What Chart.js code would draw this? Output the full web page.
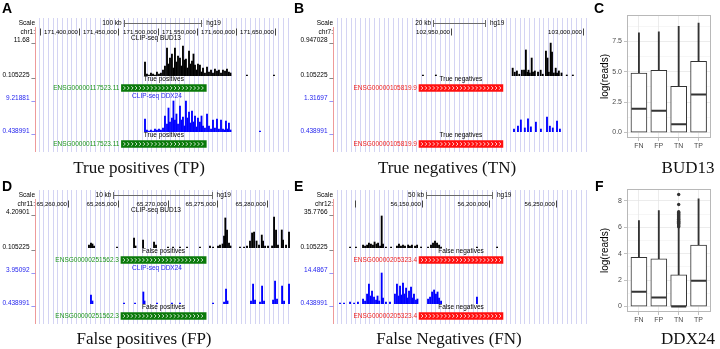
<!DOCTYPE html>
<html>
<head>
<meta charset="utf-8">
<script src="https://cdn.jsdelivr.net/npm/chart.js@4.4.1/dist/chart.umd.min.js"></script>
<style>
  html, body { margin: 0; padding: 0; background: #fff; }
  #fig { position: relative; width: 720px; height: 349px; overflow: hidden; background: #fff; }
  canvas { position: absolute; }
  .lt { position: absolute; font: bold 14px "Liberation Sans", Arial, sans-serif; line-height: 14px; color: #000; }
  .ttl { position: absolute; width: 220px; font: 17px "Liberation Serif", "Times New Roman", serif; line-height: 17px; text-align: center; white-space: nowrap; color: #111; }
</style>
</head>
<body>
<div id="fig">
  <canvas id="pA" width="296" height="160" style="left:0px;top:0px"></canvas>
  <canvas id="pB" width="300" height="160" style="left:292px;top:0px"></canvas>
  <canvas id="pC" width="130" height="160" style="left:590px;top:0px"></canvas>
  <canvas id="pD" width="296" height="160" style="left:0px;top:172px"></canvas>
  <canvas id="pE" width="300" height="160" style="left:292px;top:172px"></canvas>
  <canvas id="pF" width="130" height="160" style="left:590px;top:174px"></canvas>

  <div class="lt" style="left:2px;top:1px">A</div>
  <div class="lt" style="left:294px;top:1px">B</div>
  <div class="lt" style="left:594px;top:1px">C</div>
  <div class="lt" style="left:2px;top:179px">D</div>
  <div class="lt" style="left:294px;top:179px">E</div>
  <div class="lt" style="left:595px;top:179px">F</div>

  <div class="ttl" style="left:29px;top:159px">True positives (TP)</div>
  <div class="ttl" style="left:337px;top:159px">True negatives (TN)</div>
  <div class="ttl" style="left:578px;top:159px">BUD13</div>
  <div class="ttl" style="left:34px;top:330px">False positives (FP)</div>
  <div class="ttl" style="left:339px;top:330px">False Negatives (FN)</div>
  <div class="ttl" style="left:578px;top:330px">DDX24</div>
</div>

<script>
// ---- genome browser tracks (positions in kb, signal in track units) ----
// A: chr1, PRRC2C region
const aBudPos = [171484.0, 171486.5, 171489.1, 171491.6, 171494.2, 171496.7, 171499.2, 171501.8, 171504.3, 171506.9,
  171509.4, 171512.0, 171513.9, 171515.8, 171518.3, 171520.2, 171522.1, 171524.0, 171526.0, 171528.5,
  171530.4, 171532.3, 171534.2, 171536.1, 171538.0, 171540.0, 171541.9, 171543.8, 171545.7, 171547.6,
  171549.5, 171551.4, 171553.9, 171555.9, 171557.8, 171560.3, 171562.9, 171565.4, 171568.0, 171570.5,
  171573.0, 171575.6, 171578.1, 171580.7, 171583.2, 171585.8, 171588.3, 171590.8, 171592.8, 171613.7, 171648.1];
const aBudVal = [4.87, 0.79, 0.45, 1.13, 0.79, 0.45, 1.47, 0.79, 1.13, 2.15,
  3.51, 9.63, 4.19, 6.23, 7.59, 2.83, 9.63, 4.87, 6.91, 6.23,
  3.51, 10.31, 5.55, 5.89, 2.83, 8.61, 4.19, 5.21, 7.59, 3.85,
  2.15, 4.19, 3.85, 1.47, 2.83, 1.13, 3.17, 1.47, 2.15, 1.13,
  2.49, 1.81, 2.15, 1.13, 2.15, 1.81, 2.49, 1.47, 1.13, 0.45, 0.45];
const aDdxPos = [171484.0, 171486.5, 171489.1, 171491.6, 171494.2, 171496.7, 171499.2, 171501.8, 171504.3, 171506.9,
  171509.4, 171512.0, 171513.9, 171515.8, 171518.3, 171520.2, 171522.1, 171524.0, 171526.0, 171528.5,
  171530.4, 171532.3, 171534.2, 171536.1, 171538.0, 171540.0, 171541.9, 171543.8, 171545.7, 171547.6,
  171549.5, 171551.4, 171553.9, 171555.9, 171557.8, 171560.3, 171562.9, 171565.4, 171568.0, 171570.5,
  171573.0, 171575.6, 171578.1, 171580.7, 171583.2, 171585.1, 171587.0, 171589.0, 171590.8, 171592.8, 171630.3];
const aDdxVal = [4.01, 0.99, 0.71, 0.99, 0.71, 1.26, 0.99, 1.26, 0.99, 1.54,
  4.83, 2.63, 7.02, 3.18, 4.28, 8.95, 3.73, 5.38, 2.63, 7.57,
  3.73, 4.56, 2.09, 8.95, 4.28, 5.93, 2.91, 6.20, 3.18, 4.83,
  1.81, 4.28, 3.18, 4.83, 2.09, 1.54, 5.38, 2.09, 1.26, 3.73,
  1.54, 4.01, 1.26, 3.73, 1.26, 0.99, 3.46, 1.26, 2.91, 0.99, 0.71];

// B: chr7, PMPCB region
const bBudPos = [102939.4, 102944.3, 102973.4, 102974.2, 102975.0, 102975.9, 102976.9, 102977.7, 102978.4, 102979.0,
  102979.4, 102979.9, 102980.6, 102981.1, 102981.8, 102983.0, 102984.0, 102984.8, 102986.0, 102986.6,
  102987.1, 102987.8, 102988.3, 102989.0, 102989.7, 102990.2, 102990.9, 102991.9, 102993.9, 102996.2];
const bBudVal = [0.13, 0.13, 0.30, 0.20, 0.23, 0.15, 0.25, 0.25, 0.75, 0.20,
  0.25, 0.18, 0.55, 0.20, 0.23, 0.20, 0.25, 0.15, 0.72, 0.55,
  0.20, 0.92, 0.70, 0.18, 0.30, 0.18, 0.23, 0.18, 0.13, 0.13];
const bDdxPos = [102973.9, 102975.4, 102976.5, 102978.0, 102979.2, 102980.3, 102982.2, 102984.1, 102986.4, 102987.5, 102988.6, 102990.2, 102991.3];
const bDdxVal = [0.52, 0.60, 0.77, 0.55, 0.80, 0.58, 0.71, 0.52, 0.85, 0.60, 0.55, 0.74, 0.52];

// D: chr11, MALAT1 region
const dBudPos = [65262.07, 65262.27, 65262.42, 65262.58, 65264.90, 65266.62, 65266.77, 65267.53, 65268.64, 65268.84,
  65270.05, 65270.56, 65271.26, 65271.97, 65273.28, 65274.29, 65274.60, 65275.10, 65275.30, 65275.56,
  65275.71, 65275.84, 65276.01, 65276.21, 65276.36, 65277.32, 65277.73, 65278.03, 65278.33, 65278.54,
  65278.74, 65278.99, 65279.24, 65279.52, 65279.65, 65279.85, 65280.15, 65280.56, 65280.76, 65280.96,
  65281.16, 65281.54, 65281.67, 65281.97, 65282.27];
const dBudVal = [0.47, 0.71, 0.59, 0.35, 0.23, 1.31, 0.35, 1.07, 0.83, 0.47,
  0.23, 0.23, 0.23, 0.23, 0.23, 0.35, 0.23, 0.35, 0.47, 0.59,
  1.55, 3.73, 2.28, 0.71, 0.35, 0.23, 0.23, 0.35, 0.95, 1.92,
  2.04, 0.95, 0.47, 1.67, 0.95, 0.35, 0.35, 0.35, 3.85, 2.28,
  0.47, 2.28, 1.07, 0.47, 2.04];
const dDdxPos = [65262.27, 65262.42, 65265.61, 65266.72, 65267.56, 65267.68, 65268.94, 65270.45, 65271.26, 65274.60,
  65275.71, 65275.91, 65276.06, 65278.43, 65278.64, 65278.84, 65279.34, 65279.55, 65279.75, 65280.66,
  65280.86, 65281.06, 65281.57, 65281.77, 65282.27];
const dDdxVal = [1.43, 0.77, 0.55, 0.55, 1.76, 0.77, 0.55, 0.55, 0.55, 0.55,
  0.66, 2.08, 0.77, 0.77, 2.63, 0.88, 0.66, 2.41, 0.77, 0.88,
  2.96, 0.99, 2.41, 0.77, 2.63];

// E: chr12, SARNP region
const eBudPos = [56096.3, 56100.7, 56106.0, 56107.5, 56109.0, 56110.4, 56111.9, 56113.4, 56114.6, 56116.0,
  56117.2, 56118.7, 56119.9, 56120.9, 56123.1, 56126.9, 56131.3, 56132.8, 56134.3, 56135.8,
  56137.3, 56139.6, 56141.0, 56142.5, 56144.8, 56146.3, 56149.3, 56154.5, 56156.7, 56158.2,
  56159.7, 56161.2, 56162.7, 56164.2, 56191.0, 56206.0];
const eBudVal = [1.15, 1.15, 3.25, 2.20, 3.25, 5.35, 4.30, 3.25, 6.40, 4.30,
  5.35, 2.20, 33.7, 4.30, 1.15, 1.15, 2.20, 4.30, 2.20, 3.25,
  2.20, 3.25, 2.20, 3.25, 2.20, 3.25, 1.15, 1.15, 3.25, 5.35,
  7.45, 5.35, 3.25, 1.15, 1.15, 1.15];
const eDdxPos = [56088.8, 56091.8, 56096.3, 56099.3, 56102.2, 56106.0, 56107.5, 56109.0, 56110.4, 56111.6,
  56112.7, 56114.2, 56115.7, 56116.8, 56118.0, 56119.9, 56120.9, 56123.1, 56126.1, 56129.8,
  56131.3, 56132.5, 56133.6, 56134.7, 56135.8, 56136.9, 56138.1, 56139.2, 56140.3, 56141.8,
  56142.9, 56144.0, 56145.5, 56146.6, 56154.5, 56156.0, 56157.5, 56159.0, 56160.4, 56161.6,
  56162.7, 56164.2, 56191.0];
const eDdxVal = [0.88, 0.88, 1.32, 0.88, 1.32, 2.63, 1.76, 4.83, 9.22, 3.95,
  6.15, 3.51, 2.20, 3.95, 1.76, 14.05, 3.07, 1.32, 1.32, 4.83,
  9.22, 3.95, 8.34, 4.39, 9.66, 4.83, 7.46, 3.07, 6.15, 7.90,
  3.07, 4.83, 2.20, 2.63, 2.63, 3.51, 5.71, 6.59, 4.83, 5.71,
  3.07, 1.76, 3.51];

// ---- boxplots (log reads) ----
const groups = ['FN', 'FP', 'TN', 'TP'];
const budQ1 = [0, 0, 0, 0];
const budMed = [1.95, 1.78, 0.68, 3.12];
const budQ3 = [4.88, 5.10, 3.79, 5.85];
const budHi = [8.20, 8.27, 8.73, 9.00];
const ddxQ1 = [0, 0, 0, 0];
const ddxMed = [1.11, 0.68, 0.0, 1.95];
const ddxQ3 = [3.72, 3.60, 2.40, 4.66];
const ddxHi = [6.50, 7.27, 6.00, 8.15];
const ddxOutTN = [6.04, 6.10, 6.17, 6.24, 6.31, 6.38, 6.45, 6.52, 6.60, 6.67, 6.74, 6.82, 6.89, 6.96, 7.04, 7.11, 7.18, 7.72, 8.48];
const budTickMajor = [0, 2.5, 5, 7.5];
const budTickMinor = [1.25, 3.75, 6.25, 8.75];
const ddxTickMajor = [0, 2, 4, 6, 8];
const ddxTickMinor = [1, 3, 5, 7];

const TXT = '6.5px "Liberation Sans", Arial, sans-serif';
const NUM = '6.1px "Liberation Sans", Arial, sans-serif';
const fmtBp = kb => Math.round(kb * 1000).toLocaleString('en-US');

function label(ctx, s, x, y, align, color) {
  ctx.fillStyle = color || '#000';
  ctx.textAlign = align;
  ctx.textBaseline = 'middle';
  ctx.fillText(s, x, y);
}

function browserDecor(p) {
  return {
    id: 'browserDecor',
    beforeDatasetsDraw(chart) {
      const { ctx, chartArea: a } = chart;
      ctx.save();
      ctx.lineWidth = 1;
      ctx.strokeStyle = 'rgba(170,170,232,0.5)';
      for (let x = a.left + 2.5; x < a.right + 1; x += 4.7) {
        const px = Math.round(x) + 0.5;
        ctx.beginPath(); ctx.moveTo(px, 18); ctx.lineTo(px, 152); ctx.stroke();
      }
      ctx.strokeStyle = 'rgba(232,120,120,0.75)';
      ctx.beginPath(); ctx.moveTo(a.left - 0.5, 27); ctx.lineTo(a.left - 0.5, 152); ctx.stroke();
      ctx.restore();
    },
    afterDatasetsDraw(chart) {
      const { ctx, chartArea: a, scales } = chart;
      const xs = scales.x, yb = scales.yBud, yd = scales.yDdx;
      const L = a.left - 1;
      ctx.save();
      ctx.font = TXT;

      // scale bar row
      label(ctx, 'Scale', L, 23, 'right');
      const mid = (a.left + a.right) / 2;
      const len = xs.getPixelForValue(p.xMin + p.scaleKb) - xs.getPixelForValue(p.xMin);
      const b0 = mid - len / 2, b1 = mid + len / 2;
      ctx.strokeStyle = '#6a6a6a'; ctx.lineWidth = 1;
      ctx.beginPath();
      ctx.moveTo(b0, 23.5); ctx.lineTo(b1, 23.5);
      ctx.moveTo(Math.round(b0) + 0.5, 20); ctx.lineTo(Math.round(b0) + 0.5, 27);
      ctx.moveTo(Math.round(b1) - 0.5, 20); ctx.lineTo(Math.round(b1) - 0.5, 27);
      ctx.stroke();
      label(ctx, p.scaleKb + ' kb', b0 - 2, 23, 'right');
      label(ctx, 'hg19', b1 + 4, 23, 'left');

      // chromosome coordinates
      label(ctx, p.chrom, L, 32, 'right');
      ctx.font = NUM;
      ctx.strokeStyle = '#444';
      for (let k = Math.ceil(p.xMin / p.step) * p.step; k <= p.xMax; k += p.step) {
        const px = Math.round(xs.getPixelForValue(k)) + 0.5;
        ctx.beginPath(); ctx.moveTo(px, 28.5); ctx.lineTo(px, 35.5); ctx.stroke();
        const s = fmtBp(k);
        if (px - 1.5 - ctx.measureText(s).width > a.left - 4) label(ctx, s, px - 1.5, 32, 'right');
      }
      ctx.font = TXT;

      // track labels and view limits
      label(ctx, 'CLIP-seq BUD13', p.labelMid, yb.top - 4, 'center');
      label(ctx, p.budMax + ' _', L, yb.top - 2, 'right');
      label(ctx, p.budMin + ' _', L, yb.bottom - 1.2, 'right');
      label(ctx, 'CLIP-seq DDX24', p.labelMid + 1, yd.top - 4, 'center', '#2424ee');
      label(ctx, p.ddxMax + ' _', L, yd.top - 2, 'right', '#2424ee');
      label(ctx, p.ddxMin + ' _', L, yd.bottom - 1.2, 'right', '#2424ee');

      // gene models
      [2, 3].forEach(i => {
        const bar = chart.getDatasetMeta(i).data[0];
        const { x, base, y } = bar.getProps(['x', 'base', 'y'], true);
        const x0 = Math.min(x, base), x1 = Math.max(x, base);
        ctx.strokeStyle = '#fff'; ctx.lineWidth = 0.8;
        for (let c = x0 + 3; c < x1 - 2; c += 3.9) {
          ctx.beginPath();
          ctx.moveTo(c - 0.9, y - 1.8); ctx.lineTo(c + 0.9, y); ctx.lineTo(c - 0.9, y + 1.8);
          ctx.stroke();
        }
        label(ctx, p.geneLabel, (x0 + x1) / 2, y - 8.5, 'center');
        label(ctx, p.geneName, x0 - 2, y + 0.3, 'right', p.textColor);
      });
      ctx.restore();
    }
  };
}

function browserPanel(id, p) {
  const pts = (xs, ys) => xs.map((x, i) => ({ x: x, y: ys[i] }));
  const track = (w, extra) => Object.assign({
    type: 'linear', axis: 'y', position: 'right', stack: 'trk', stackWeight: w,
    display: false, beginAtZero: false
  }, extra);
  return new Chart(document.getElementById(id), {
    type: 'bar',
    data: {
      datasets: [
        { data: pts(p.budPos, p.budVal), yAxisID: 'yBud', backgroundColor: '#000', barThickness: 1.2, grouped: false },
        { data: pts(p.ddxPos, p.ddxVal), yAxisID: 'yDdx', backgroundColor: '#0000ff', barThickness: 1.2, grouped: false },
        { data: [{ y: 0.5, x: p.gene }], indexAxis: 'y', yAxisID: 'yGene1', backgroundColor: p.color, barThickness: 7, grouped: false },
        { data: [{ y: 0.5, x: p.gene }], indexAxis: 'y', yAxisID: 'yGene2', backgroundColor: p.color, barThickness: 7, grouped: false }
      ]
    },
    options: {
      responsive: false,
      animation: false,
      events: [],
      layout: { padding: { left: p.padL, right: p.padR, top: 42, bottom: 4 } },
      plugins: { legend: { display: false }, tooltip: { enabled: false } },
      scales: {
        x: { type: 'linear', display: false, min: p.xMin, max: p.xMax, beginAtZero: false, offset: false },
        yBud: track(34, { min: p.budMin, max: p.budMax }),
        yGene1: track(24, { min: 0, max: 1 }),
        yDdx: track(32, { min: p.ddxMin, max: p.ddxMax }),
        yGene2: track(24, { min: 0, max: 1 })
      }
    },
    plugins: [browserDecor(p)]
  });
}

browserPanel('pA', {
  padL: 36, padR: 6, xMin: 171345.3, xMax: 171668.5, step: 50, scaleKb: 100, chrom: 'chr1:', labelMid: 156,
  budPos: aBudPos, budVal: aBudVal, budMin: 0.105225, budMax: 11.68,
  ddxPos: aDdxPos, ddxVal: aDdxVal, ddxMin: 0.438991, ddxMax: 9.21881,
  gene: [171454.0, 171562.0], geneName: 'ENSG00000117523.11', geneLabel: 'True positives',
  color: '#0a7a0a', textColor: '#1e961e'
});
browserPanel('pB', {
  padL: 42, padR: 7, xMin: 102905.7, xMax: 103000.8, step: 50, scaleKb: 20, chrom: 'chr7:', labelMid: 459,
  budPos: bBudPos, budVal: bBudVal, budMin: 0.105225, budMax: 0.947028,
  ddxPos: bDdxPos, ddxVal: bDdxVal, ddxMin: 0.438991, ddxMax: 1.31697,
  gene: [102937.9, 102969.7], geneName: 'ENSG00000105819.9', geneLabel: 'True negatives',
  color: '#ff1010', textColor: '#ee2222'
});
browserPanel('pD', {
  padL: 36, padR: 6, xMin: 65256.72, xMax: 65282.37, step: 5, scaleKb: 10, chrom: 'chr11:', labelMid: 156,
  budPos: dBudPos, budVal: dBudVal, budMin: 0.105225, budMax: 4.20901,
  ddxPos: dDdxPos, ddxVal: dDdxVal, ddxMin: 0.438991, ddxMax: 3.95092,
  gene: [65265.3, 65273.9], geneName: 'ENSG00000251562.3', geneLabel: 'False positives',
  color: '#0a7a0a', textColor: '#1e961e'
});
browserPanel('pE', {
  padL: 42, padR: 7, xMin: 56084.33, xMax: 56271.6, step: 50, scaleKb: 50, chrom: 'chr12:', labelMid: 459,
  budPos: eBudPos, budVal: eBudVal, budMin: 0.105225, budMax: 35.7766,
  ddxPos: eDdxPos, ddxVal: eDdxVal, ddxMin: 0.438991, ddxMax: 14.4867,
  gene: [56147.8, 56210.4], geneName: 'ENSG00000205323.4', geneLabel: 'False negatives',
  color: '#ff1010', textColor: '#ee2222'
});

// ---- boxplot panels ----
const panelBorder = {
  id: 'panelBorder',
  beforeDatasetsDraw(chart) {
    const { ctx, chartArea: a } = chart;
    ctx.save();
    ctx.strokeStyle = '#b8b8b8';
    ctx.lineWidth = 1;
    ctx.strokeRect(Math.round(a.left) + 0.5, Math.round(a.top) + 0.5, Math.round(a.width) - 1, Math.round(a.height) - 1);
    ctx.restore();
  }
};

function boxPanel(id, b) {
  const major = b.major;
  const ticks = major.concat(b.minor).sort((u, v) => u - v);
  const at = ys => groups.map((g, i) => ({ x: i + 1, y: ys[i] }));
  const outX = groups.indexOf('TN') + 1;
  return new Chart(document.getElementById(id), {
    type: 'bar',
    data: {
      datasets: [
        // higher order is drawn first (underneath)
        { order: 3, data: groups.map((g, i) => ({ x: i + 1, y: [b.q3[i], b.hi[i]] })), backgroundColor: '#333', barThickness: 1.2, grouped: false },
        { order: 2, data: groups.map((g, i) => ({ x: i + 1, y: [b.q1[i], b.q3[i]] })), backgroundColor: '#fff', borderColor: '#333', borderWidth: 1, borderSkipped: false, barThickness: 16, grouped: false },
        { order: 1, type: 'line', data: at(b.med), showLine: false, pointStyle: 'line', pointRadius: 7.5, pointBorderWidth: 2, pointBorderColor: '#333', borderColor: '#333' },
        { order: 0, type: 'line', data: b.out.map(v => ({ x: outX, y: v })), showLine: false, pointRadius: 1.7, pointBackgroundColor: '#333', pointBorderWidth: 0 }
      ]
    },
    options: {
      responsive: false,
      animation: false,
      events: [],
      layout: { padding: { left: 0, right: 4, top: 15, bottom: 8 } },
      plugins: { legend: { display: false }, tooltip: { enabled: false } },
      scales: {
        x: {
          type: 'linear', min: 0.4, max: 4.6, offset: false, beginAtZero: false,
          afterBuildTicks: s => { s.ticks = groups.map((g, i) => ({ value: i + 1 })); },
          afterFit: s => { s.height = 14; },
          ticks: { callback: v => groups[v - 1], color: '#4d4d4d', font: { size: 7 }, padding: 1, autoSkip: false, maxRotation: 0 },
          grid: { offset: false, color: '#e4e4e4', lineWidth: 0.7, tickLength: 3, tickColor: '#b3b3b3', tickWidth: 0.8 },
          border: { display: false }
        },
        y: {
          type: 'linear', min: b.min, max: b.max, beginAtZero: false,
          afterBuildTicks: s => { s.ticks = ticks.map(v => ({ value: v })); },
          afterFit: s => { s.width = 37; },
          ticks: { callback: v => major.includes(v) ? b.fmt(v) : '', color: '#4d4d4d', font: { size: 7 }, padding: 2, autoSkip: false },
          grid: {
            color: '#e4e4e4',
            lineWidth: c => major.includes(c.tick.value) ? 0.7 : 0.35,
            tickLength: 3,
            tickWidth: 0.8,
            tickColor: c => major.includes(c.tick.value) ? '#b3b3b3' : 'rgba(0,0,0,0)'
          },
          border: { display: false },
          title: { display: true, text: 'log(reads)', color: '#000', font: { size: 10 }, padding: { top: 9, bottom: 0 } }
        }
      }
    },
    plugins: [panelBorder]
  });
}

boxPanel('pC', {
  q1: budQ1, med: budMed, q3: budQ3, hi: budHi, out: [],
  min: -0.46, max: 9.66, major: budTickMajor, minor: budTickMinor, fmt: v => v.toFixed(1)
});
boxPanel('pF', {
  q1: ddxQ1, med: ddxMed, q3: ddxQ3, hi: ddxHi, out: ddxOutTN,
  min: -0.42, max: 8.9, major: ddxTickMajor, minor: ddxTickMinor, fmt: v => String(v)
});
</script>
</body>
</html>
